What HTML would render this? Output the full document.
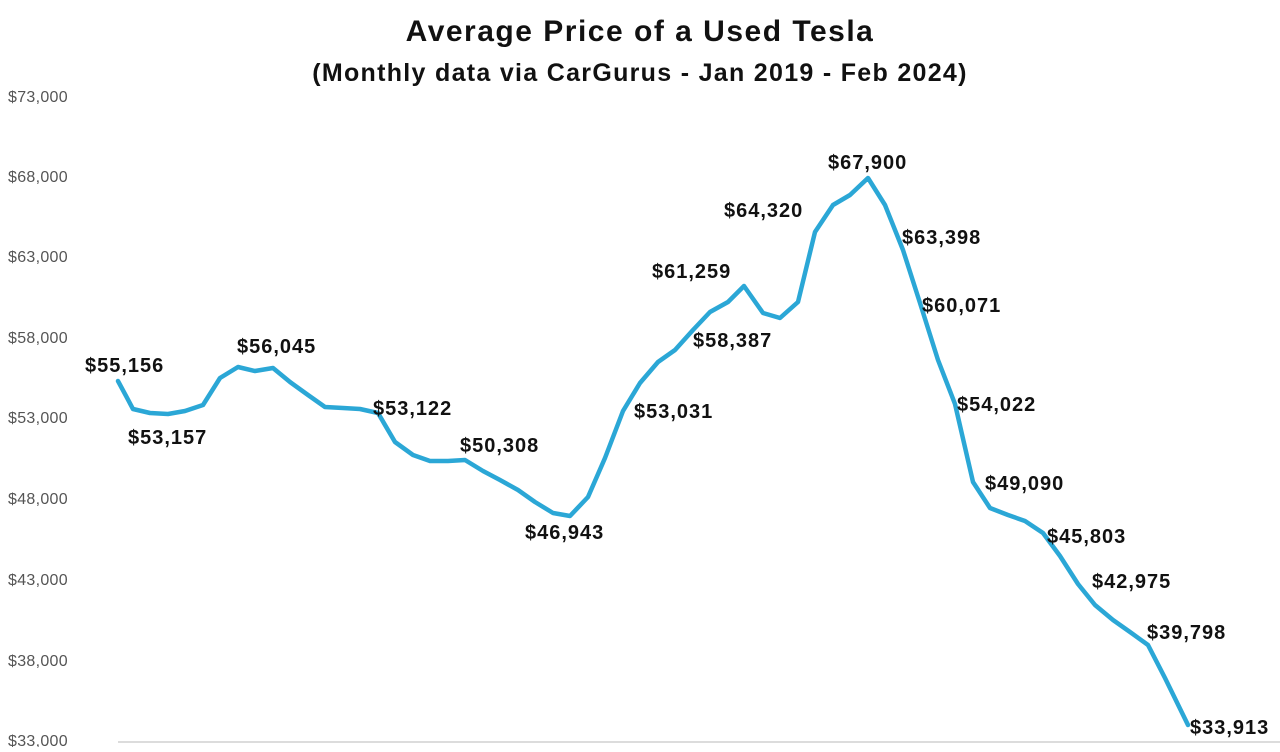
<!DOCTYPE html>
<html><head><meta charset="utf-8"><style>
html,body{margin:0;padding:0;background:#fff;}
svg text{font-family:"Liberation Sans",sans-serif;}
</style></head><body>
<svg width="1280" height="747" viewBox="0 0 1280 747" xmlns="http://www.w3.org/2000/svg">
<rect width="1280" height="747" fill="#fff"/>
<text x="640" y="41" text-anchor="middle" font-size="30" font-weight="bold" fill="#111" letter-spacing="1.5">Average Price of a Used Tesla</text>
<text x="640" y="81" text-anchor="middle" font-size="25" font-weight="bold" fill="#111" letter-spacing="1.3">(Monthly data via CarGurus - Jan 2019 - Feb 2024)</text>
<g font-size="16" fill="#555" letter-spacing="0.3">
<text x="8" y="102">$73,000</text>
<text x="8" y="182">$68,000</text>
<text x="8" y="262">$63,000</text>
<text x="8" y="343">$58,000</text>
<text x="8" y="423">$53,000</text>
<text x="8" y="504">$48,000</text>
<text x="8" y="585">$43,000</text>
<text x="8" y="666">$38,000</text>
<text x="8" y="746">$33,000</text>
</g>
<line x1="118" y1="742" x2="1280" y2="742" stroke="#d0d0d0" stroke-width="1.5"/>
<polyline fill="none" stroke="#2ba7d6" stroke-width="4.5" stroke-linejoin="round" stroke-linecap="round" points="118,381 133,409 150,413 168,414 185,411 203,405 220,378 238,367 255,371 273,368 290,382 308,395 325,407 343,408 360,409 378,413 395,442 413,455 430,461 448,461 465,460 483,471 500,480 518,490 535,502 553,513 570,516 588,497 605,458 623,411 640,383 658,362 675,350 693,330 710,312 728,302 744,286 763,313 780,318 798,302 815,232 833,205 850,195 868,178 885,205 903,250 920,303 938,360 955,404 973,482 990,508 1008,515 1025,521 1043,533 1060,556 1078,584 1095,605 1113,620 1130,632 1148,645 1165,678 1188,725"/>
<g font-size="20" font-weight="bold" fill="#111" letter-spacing="1">
<text x="85" y="372">$55,156</text>
<text x="128" y="444">$53,157</text>
<text x="237" y="353">$56,045</text>
<text x="373" y="415">$53,122</text>
<text x="460" y="452">$50,308</text>
<text x="525" y="539">$46,943</text>
<text x="634" y="418">$53,031</text>
<text x="652" y="278">$61,259</text>
<text x="693" y="347">$58,387</text>
<text x="724" y="217">$64,320</text>
<text x="828" y="169">$67,900</text>
<text x="902" y="244">$63,398</text>
<text x="922" y="312">$60,071</text>
<text x="957" y="411">$54,022</text>
<text x="985" y="490">$49,090</text>
<text x="1047" y="543">$45,803</text>
<text x="1092" y="588">$42,975</text>
<text x="1147" y="639">$39,798</text>
<text x="1190" y="734">$33,913</text>
</g>
</svg>
</body></html>
